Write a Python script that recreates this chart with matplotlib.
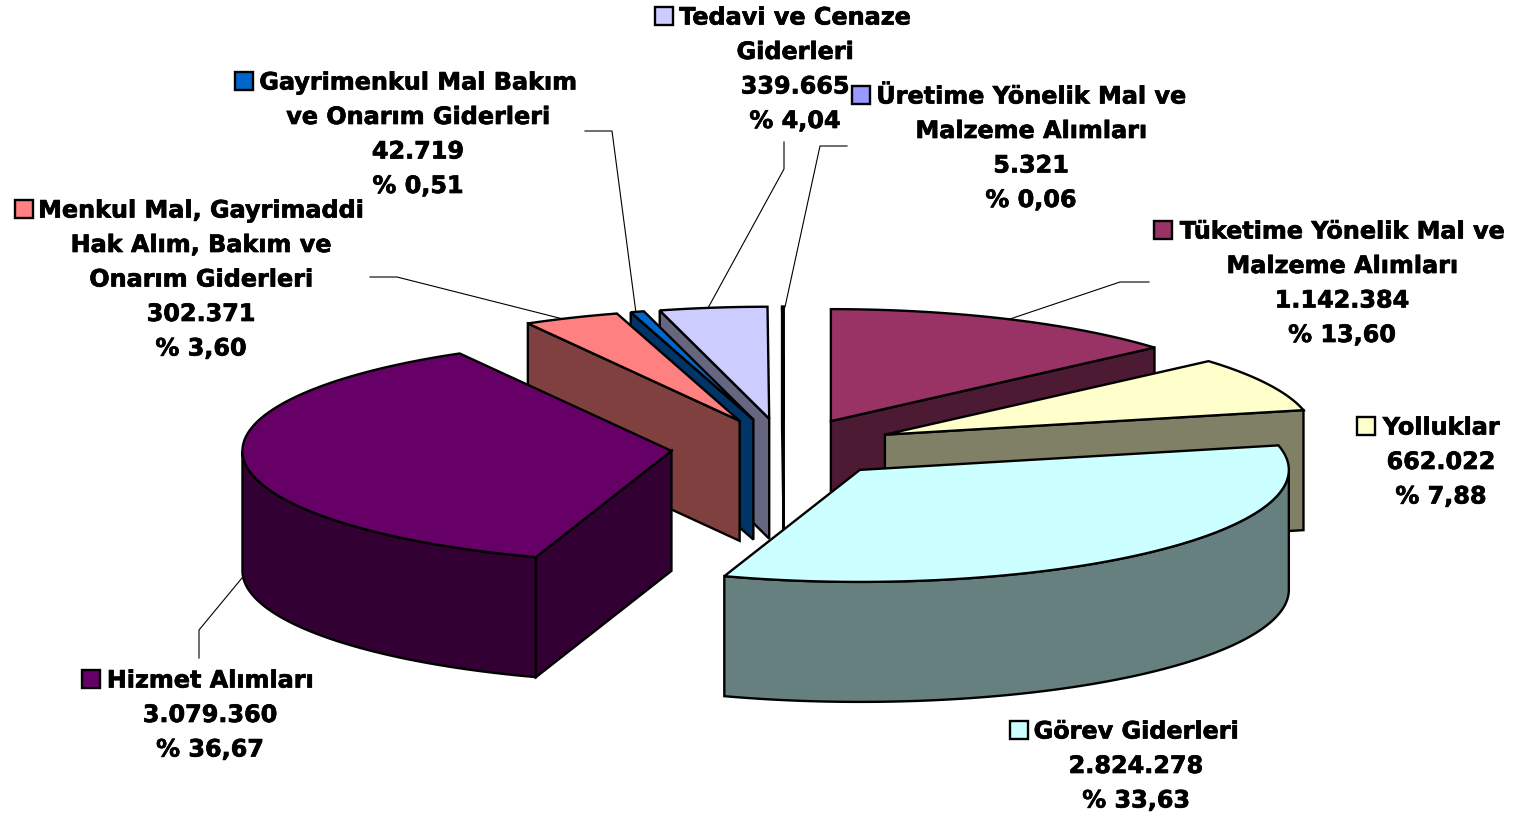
#!/usr/bin/env python

import matplotlib
matplotlib.use("Agg")
import matplotlib.pyplot as plt
import matplotlib.patheffects as pe
from matplotlib.colors import to_rgb
from matplotlib.patches import Polygon, Rectangle
import numpy as np

# Data, clockwise from 12 o'clock
# -------------------------------
categories = ["Tüketime Yönelik Mal ve\nMalzeme Alımları",
              "Yolluklar",
              "Görev Giderleri",
              "Hizmet Alımları",
              "Menkul Mal, Gayrimaddi\nHak Alım, Bakım ve\nOnarım Giderleri",
              "Gayrimenkul Mal Bakım\nve Onarım Giderleri",
              "Tedavi ve Cenaze\nGiderleri",
              "Üretime Yönelik Mal ve\nMalzeme Alımları"]
amounts = [1142384, 662022, 2824278, 3079360, 302371, 42719, 339665, 5321]
percents = ["13,60", "7,88", "33,63", "36,67", "3,60", "0,51", "4,04", "0,06"]
colors = ["#993366", "#FFFFCC", "#CCFFFF", "#660066",
          "#FF8080", "#0066CC", "#CCCCFF", "#9999FF"]

# Pie geometry, pixels
# --------------------
cx, cy = 784, 448
rx, ry = 429, 112
depth = 120
explode = 0.2636
edge_lw = 1.7

# Painter's order, back to front
draw_order = [7, 6, 5, 4, 3, 0, 1, 2]

# Label text centre x, first row y, swatch left x
label_pos = [(1342, 230, 1154), (1441, 426, 1357), (1136, 730, 1010), (210, 679, 82),
             (201, 209, 15), (418, 81, 235), (795, 16, 655), (1031, 95, 852)]
row_step = 34.5
swatch = 18
fontsize = 17.2

# Leader lines, pixels
leaders = [[(1149, 282), (1120, 282), (1007, 320)],
           [(242, 578), (199, 630), (199, 658)],
           [(370, 277), (397, 277), (567, 320)],
           [(585, 131), (612, 131), (636, 313)],
           [(784, 142), (784, 169), (708, 308)],
           [(847, 146), (820, 146), (785, 307)]]

fig = plt.figure(figsize=(15.15, 8.17), dpi=100)
ax = fig.add_axes([0, 0, 1, 1])
ax.set_xlim(0, 1515)
ax.set_ylim(817, 0)
ax.axis("off")

# Slice angles, radians clockwise from the top
bounds = np.concatenate([[0], np.cumsum(amounts)]) / np.sum(amounts) * 2 * np.pi


def rim(ox, oy, t):
    return np.column_stack([ox + rx * np.sin(t), oy - ry * np.cos(t)])


def add_poly(pts, color, z):
    ax.add_patch(Polygon(pts, closed=True, facecolor=color, edgecolor="black",
                         linewidth=edge_lw, joinstyle="miter", zorder=z))


for line in leaders:
    xs, ys = zip(*line)
    ax.plot(xs, ys, color="black", lw=0.8, zorder=1)

z = 2
for i in draw_order:
    a, b = bounds[i], bounds[i + 1]
    mid = (a + b) / 2
    ox = cx + explode * rx * np.sin(mid)
    oy = cy - explode * ry * np.cos(mid)
    dark = tuple(c * 0.5 for c in to_rgb(colors[i]))
    down = np.array([0, depth])
    apex = np.array([ox, oy])

    # Radial cut faces that look towards the viewer
    if np.sin(a) < -1e-6:
        p = rim(ox, oy, np.array([a]))[0]
        add_poly([apex, p, p + down, apex + down], dark, z)
        z += 1
    if np.sin(b) > 1e-6:
        p = rim(ox, oy, np.array([b]))[0]
        add_poly([apex, p, p + down, apex + down], dark, z)
        z += 1

    # Curved outer wall, front half only
    lo, hi = max(a, np.pi / 2), min(b, 3 * np.pi / 2)
    if hi > lo:
        arc = rim(ox, oy, np.linspace(lo, hi, 120))
        add_poly(np.vstack([arc, arc[::-1] + down]), dark, z)
        z += 1

    # Top face
    arc = rim(ox, oy, np.linspace(a, b, 120))
    add_poly(np.vstack([apex, arc]), colors[i], z)
    z += 1

# Labels
# ------
for i, (xc, y0, sx) in enumerate(label_pos):
    rows = categories[i].split("\n")
    rows += [f"{amounts[i]:,}".replace(",", "."), "% " + percents[i]]
    for j, row in enumerate(rows):
        ax.text(xc, y0 - 1 + j * row_step, row, ha="center", va="center_baseline",
                fontsize=fontsize, fontweight="bold", family="DejaVu Sans", zorder=50,
                path_effects=[pe.withStroke(linewidth=0.5, foreground="black")])
    ax.add_patch(Rectangle((sx, y0 - swatch / 2), swatch, swatch, facecolor=colors[i],
                           edgecolor="black", linewidth=edge_lw, zorder=50))

fig.savefig("out.png", dpi=100)
